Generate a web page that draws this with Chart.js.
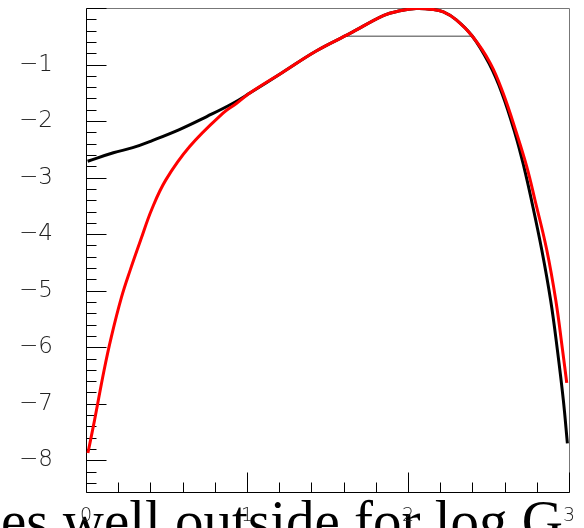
<!DOCTYPE html>
<html>
<head>
<meta charset="utf-8">
<script src="https://cdn.jsdelivr.net/npm/chart.js@4.4.1/dist/chart.umd.min.js"></script>
<style>
  html, body { margin: 0; padding: 0; background: #fff; overflow: hidden; }
  #wrap { position: relative; width: 584px; height: 528px; overflow: hidden; }
  #caption {
    position: absolute; left: 1px; top: 492px;
    font-family: 'Liberation Serif', 'DejaVu Serif', serif;
    font-size: 57px; line-height: 57px; color: #000; white-space: nowrap;
  }
  #myChart { position: absolute; left: 0; top: 0; }
</style>
</head>
<body>
<div id="wrap">
  <div id="caption"></div>
  <canvas id="myChart" width="584" height="528"></canvas>
</div>
<script>
'use strict';

// tick labels
const xTicks = [0, 1, 2, 3];
const yTicks = [-1, -2, -3, -4, -5, -6, -7, -8];

// black curve
const blackX = [0.01, 0.17, 0.29, 0.415, 0.58, 0.75, 0.91, 1.02, 1.22, 1.43, 1.64, 1.85, 1.95, 2.05, 2.15, 2.22, 2.3, 2.4,
  2.503, 2.584, 2.665, 2.72, 2.767, 2.831, 2.886, 2.928, 2.965, 2.99];
const blackY = [-2.71, -2.56, -2.47, -2.34, -2.15, -1.92, -1.69, -1.50, -1.14, -0.76, -0.45, -0.13, -0.05, -0.01, -0.025, -0.07, -0.21, -0.50,
  -0.98, -1.51, -2.22, -2.81, -3.40, -4.28, -5.17, -6.05, -6.94, -7.70];

// red curve
const redX = [0.012, 0.053, 0.112, 0.157, 0.221, 0.274, 0.34, 0.41, 0.496, 0.644, 0.851, 0.934, 1.02, 1.22, 1.43, 1.64, 1.85, 1.95, 2.05, 2.15, 2.22, 2.3, 2.4,
  2.51, 2.59, 2.675, 2.738, 2.789, 2.862, 2.918, 2.96, 2.986];
const redY = [-7.87, -7.29, -6.41, -5.82, -5.11, -4.64, -4.10, -3.55, -3.04, -2.45, -1.86, -1.69, -1.50, -1.14, -0.76, -0.45, -0.13, -0.05, -0.01, -0.025, -0.07, -0.21, -0.50,
  -0.97, -1.50, -2.22, -2.81, -3.40, -4.28, -5.17, -6.05, -6.63];

// half-maximum marker
const fwhmX = [1.618, 2.396];
const fwhmY = [-0.5, -0.5];

const captionText = 'es well outside for log G';

document.getElementById('caption').textContent = captionText;

function toPoints(xs, ys) {
  return xs.map((x, i) => ({ x: x, y: ys[i] }));
}

// ticks inside the frame, like the original plot
const frameTicks = {
  id: 'frameTicks',
  beforeDatasetsDraw(chart) {
    const ctx = chart.ctx;
    const a = chart.chartArea;
    const xs = chart.scales.x;
    const ys = chart.scales.y;
    const l = Math.round(a.left) + 0.5;
    const r = Math.round(a.right) + 0.5;
    const t = Math.round(a.top) + 0.5;
    const b = Math.round(a.bottom) + 0.5;
    ctx.save();
    ctx.lineWidth = 1;
    // top + right frame
    ctx.strokeStyle = '#777';
    ctx.beginPath();
    ctx.moveTo(l, t); ctx.lineTo(r, t); ctx.lineTo(r, b);
    ctx.stroke();
    ctx.strokeStyle = '#000';
    ctx.beginPath();
    ctx.moveTo(l, t); ctx.lineTo(l, b); ctx.lineTo(r, b);
    // x ticks
    for (let v = 0; v <= 3.0001; v += 0.2) {
      const px = Math.round(xs.getPixelForValue(v)) + 0.5;
      const major = Math.abs(v - Math.round(v)) < 1e-6;
      ctx.moveTo(px, b);
      ctx.lineTo(px, b - (major ? 20 : 10));
    }
    // y ticks
    for (let v = 0; v >= ys.min; v -= 0.2) {
      const py = Math.round(ys.getPixelForValue(v)) + 0.5;
      const major = Math.abs(v - Math.round(v)) < 1e-6;
      ctx.moveTo(l, py);
      ctx.lineTo(l + (major ? 20 : 10), py);
    }
    ctx.stroke();
    ctx.restore();
  }
};

const tickFont = { family: "'DejaVu Sans', sans-serif", weight: '200' };

const ctx = document.getElementById('myChart').getContext('2d');
const myChart = new Chart(ctx, {
  type: 'scatter',
  data: {
    datasets: [{
      label: 'red',
      data: toPoints(redX, redY),
      showLine: true,
      borderColor: '#ff0000',
      borderWidth: 3,
      pointRadius: 0,
      tension: 0.4
    }, {
      label: 'black',
      data: toPoints(blackX, blackY),
      showLine: true,
      borderColor: '#000000',
      borderWidth: 3,
      pointRadius: 0,
      tension: 0.4
    }, {
      label: 'fwhm',
      data: toPoints(fwhmX, fwhmY),
      showLine: true,
      borderColor: '#808080',
      borderWidth: 1.5,
      pointRadius: 0
    }]
  },
  options: {
    responsive: false,
    animation: false,
    layout: { autoPadding: false, padding: { top: 8, right: 15, left: 0, bottom: 0 } },
    plugins: {
      legend: { display: false },
      tooltip: { enabled: false }
    },
    scales: {
      x: {
        type: 'linear',
        min: 0,
        max: 3,
        grid: { display: false, drawTicks: false },
        border: { display: false },
        afterBuildTicks: (s) => { s.ticks = xTicks.map(v => ({ value: v })); },
        afterFit: (s) => {
          s.height = 36;
          s.paddingLeft = 0;
          s.paddingRight = 0;
        },
        ticks: {
          padding: 13,
          color: '#222',
          maxRotation: 0,
          autoSkip: false,
          font: Object.assign({ size: 19 }, tickFont),
          callback: (v) => String(v)
        }
      },
      y: {
        type: 'linear',
        min: -8.56,
        max: 0,
        grid: { display: false, drawTicks: false },
        border: { display: false },
        afterBuildTicks: (s) => { s.ticks = yTicks.map(v => ({ value: v })); },
        afterFit: (s) => {
          s.width = 86;
          s.paddingTop = 0;
          s.paddingBottom = 0;
        },
        ticks: {
          padding: 33,
          color: '#222',
          autoSkip: false,
          font: Object.assign({ size: 23 }, tickFont),
          callback: (v) => '\u2212' + Math.abs(v)
        }
      }
    }
  },
  plugins: [frameTicks]
});
</script>
</body>
</html>
